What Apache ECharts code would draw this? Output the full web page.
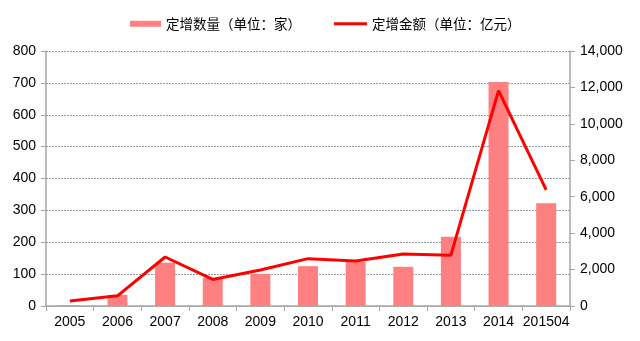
<!DOCTYPE html>
<html>
<head>
<meta charset="utf-8">
<script src="https://cdn.jsdelivr.net/npm/echarts@6/dist/echarts.min.js"></script>
<style>
html,body{margin:0;padding:0;background:#fff;}
#chart{width:640px;height:341px;}
</style>
</head>
<body>
<div id="chart"></div>
<script>
// 定增数据：年份、家数、金额
const categories = ['2005','2006','2007','2008','2009','2010','2011','2012','2013','2014','201504'];
const countValues = [2, 35, 136, 89, 101, 125, 138, 123, 217, 703, 322];
const amountValues = [280, 560, 2690, 1460, 1980, 2600, 2470, 2850, 2790, 11820, 6370];
const leftTicks = { min: 0, max: 800, interval: 100 };
const rightTicks = { min: 0, max: 14000, interval: 2000 };

const axisColor = '#a6a6a6';
const textStyle = { color: '#000', fontSize: 14, fontFamily: 'Liberation Sans, Arial, sans-serif' };
const legendText = { color: '#000', fontSize: 13.5, fontFamily: 'Noto Sans CJK SC, sans-serif' };

const chart = echarts.init(document.getElementById('chart'), null, { renderer: 'canvas' });
chart.setOption({
  animation: false,
  legend: [
    {
      top: 12,
      left: 125,
      itemWidth: 31,
      itemHeight: 6,
      textStyle: legendText,
      data: [{ name: '定增数量（单位：家）', icon: 'rect' }]
    },
    {
      top: 12,
      left: 329,
      itemWidth: 33,
      itemHeight: 3,
      textStyle: legendText,
      data: [{ name: '定增金额（单位：亿元）', icon: 'rect', itemStyle: { color: '#ff0000' } }]
    }
  ],
  grid: { left: 46, right: 70, top: 51, bottom: 35 },
  xAxis: {
    type: 'category',
    data: categories,
    boundaryGap: true,
    axisLine: { lineStyle: { color: axisColor, width: 1.5 } },
    axisTick: { show: true, length: 5, lineStyle: { color: axisColor } },
    axisLabel: Object.assign({ margin: 9, interval: 0 }, textStyle)
  },
  yAxis: [
    {
      type: 'value',
      min: leftTicks.min, max: leftTicks.max, interval: leftTicks.interval,
      axisLine: { show: true, lineStyle: { color: axisColor, width: 1.5 } },
      axisTick: { show: true, length: 5, lineStyle: { color: axisColor } },
      axisLabel: Object.assign({ margin: 10 }, textStyle),
      splitLine: { show: true, lineStyle: { color: '#9a9a9a', type: [2, 1], width: 1 } }
    },
    {
      type: 'value',
      min: rightTicks.min, max: rightTicks.max, interval: rightTicks.interval,
      position: 'right',
      axisLine: { show: true, lineStyle: { color: axisColor, width: 1.5 } },
      axisTick: { show: true, length: 5, lineStyle: { color: axisColor } },
      axisLabel: Object.assign({
        margin: 10,
        formatter: v => v.toLocaleString('en-US')
      }, textStyle),
      splitLine: { show: false }
    }
  ],
  series: [
    {
      name: '定增数量（单位：家）',
      type: 'bar',
      yAxisIndex: 0,
      data: countValues,
      barWidth: 20,
      itemStyle: { color: '#ff8080' }
    },
    {
      name: '定增金额（单位：亿元）',
      type: 'line',
      yAxisIndex: 1,
      data: amountValues,
      symbol: 'none',
      lineStyle: { color: '#ff0000', width: 3 },
      itemStyle: { color: '#ff0000' }
    }
  ]
});
</script>
</body>
</html>
